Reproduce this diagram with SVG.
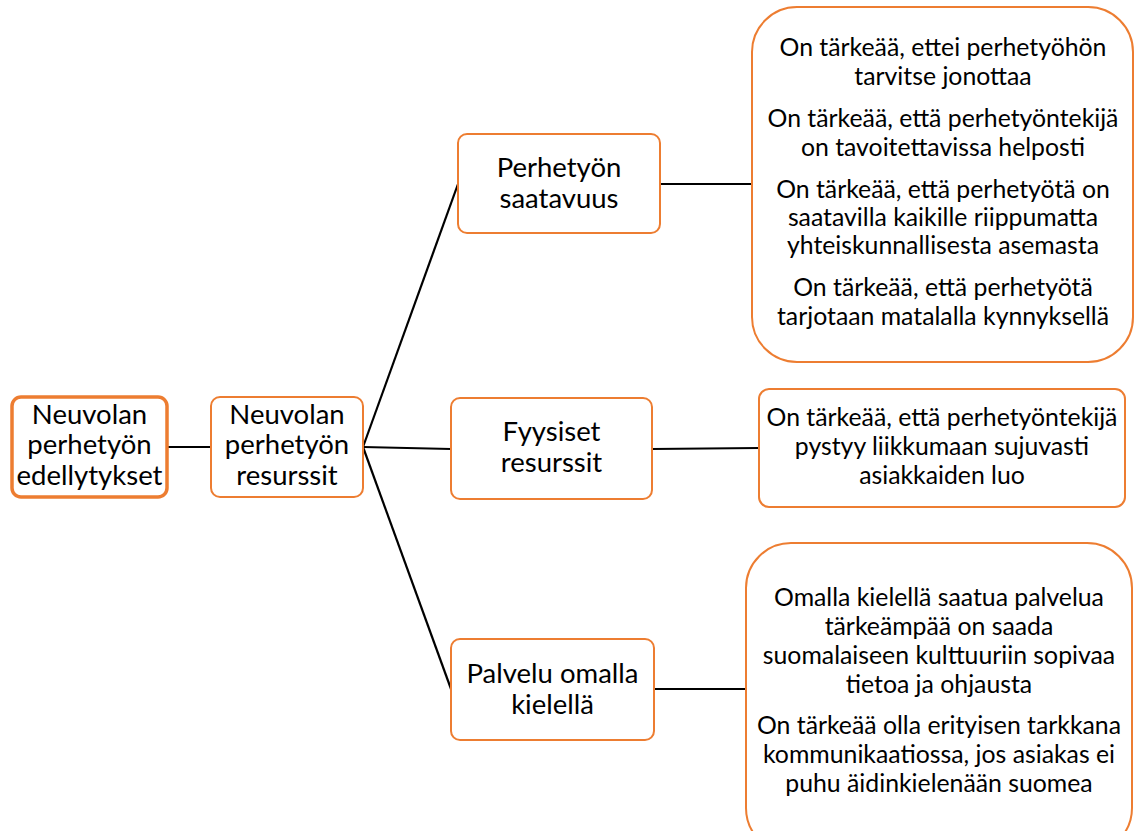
<svg xmlns="http://www.w3.org/2000/svg" width="1134" height="831" viewBox="0 0 1134 831">
  <style>
    .box { fill: #ffffff; stroke: #ED7D31; stroke-width: 2; }
    .root { stroke-width: 3.5; }
    .link { stroke: #000000; stroke-width: 2.2; fill: none; }
    text { font-family: Lato, "Liberation Sans", sans-serif; fill: #000000; text-anchor: middle; }
    .n { font-size: 27.5px; }
    .d { font-size: 24.8px; }
  </style>
  <rect width="1134" height="831" fill="#ffffff"/>

  <g id="connectors">
    <line class="link" x1="167" y1="447" x2="211" y2="447"/>
    <line class="link" x1="363" y1="447" x2="458" y2="184"/>
    <line class="link" x1="363" y1="447" x2="451" y2="449"/>
    <line class="link" x1="363" y1="447" x2="451" y2="689"/>
    <line class="link" x1="660" y1="184" x2="752" y2="184"/>
    <line class="link" x1="652" y1="449" x2="759" y2="448"/>
    <line class="link" x1="654" y1="689" x2="746" y2="689"/>
  </g>

  <g id="node-edellytykset">
    <rect class="box root" x="12" y="397" width="155" height="100" rx="9"/>
    <text class="n" x="89.5" y="424">Neuvolan</text>
    <text class="n" x="89.5" y="454">perhetyön</text>
    <text class="n" x="89.5" y="485" textLength="146" lengthAdjust="spacingAndGlyphs">edellytykset</text>
  </g>

  <g id="node-resurssit">
    <rect class="box" x="211" y="397" width="152" height="100" rx="9"/>
    <text class="n" x="287" y="424">Neuvolan</text>
    <text class="n" x="287" y="454">perhetyön</text>
    <text class="n" x="287" y="485">resurssit</text>
  </g>

  <g id="node-saatavuus">
    <rect class="box" x="458" y="134" width="202" height="99" rx="9"/>
    <text class="n" x="559" y="177">Perhetyön</text>
    <text class="n" x="559" y="208">saatavuus</text>
  </g>

  <g id="node-fyysiset">
    <rect class="box" x="451" y="398" width="201" height="101" rx="9"/>
    <text class="n" x="551.5" y="441">Fyysiset</text>
    <text class="n" x="551.5" y="472">resurssit</text>
  </g>

  <g id="node-kieli">
    <rect class="box" x="451" y="639" width="203" height="101" rx="9"/>
    <text class="n" x="552.5" y="683">Palvelu omalla</text>
    <text class="n" x="552.5" y="714">kielellä</text>
  </g>

  <g id="detail-saatavuus">
    <rect class="box" x="752" y="7" width="381" height="355" rx="45"/>
    <text class="d" x="943" y="56">On tärkeää, ettei perhetyöhön</text>
    <text class="d" x="943" y="85">tarvitse jonottaa</text>
    <text class="d" x="943" y="127">On tärkeää, että perhetyöntekijä</text>
    <text class="d" x="943" y="156">on tavoitettavissa helposti</text>
    <text class="d" x="943" y="198">On tärkeää, että perhetyötä on</text>
    <text class="d" x="943" y="226">saatavilla kaikille riippumatta</text>
    <text class="d" x="943" y="254">yhteiskunnallisesta asemasta</text>
    <text class="d" x="943" y="296">On tärkeää, että perhetyötä</text>
    <text class="d" x="943" y="325">tarjotaan matalalla kynnyksellä</text>
  </g>

  <g id="detail-fyysiset">
    <rect class="box" x="759" y="389" width="366" height="118" rx="10"/>
    <text class="d" x="942" y="426">On tärkeää, että perhetyöntekijä</text>
    <text class="d" x="942" y="455">pystyy liikkumaan sujuvasti</text>
    <text class="d" x="942" y="484">asiakkaiden luo</text>
  </g>

  <g id="detail-kieli">
    <rect class="box" x="746" y="543" width="386" height="310" rx="45"/>
    <text class="d" x="939" y="606">Omalla kielellä saatua palvelua</text>
    <text class="d" x="939" y="635">tärkeämpää on saada</text>
    <text class="d" x="939" y="664">suomalaiseen kulttuuriin sopivaa</text>
    <text class="d" x="939" y="693">tietoa ja ohjausta</text>
    <text class="d" x="939" y="734">On tärkeää olla erityisen tarkkana</text>
    <text class="d" x="939" y="763">kommunikaatiossa, jos asiakas ei</text>
    <text class="d" x="939" y="792">puhu äidinkielenään suomea</text>
  </g>
</svg>
